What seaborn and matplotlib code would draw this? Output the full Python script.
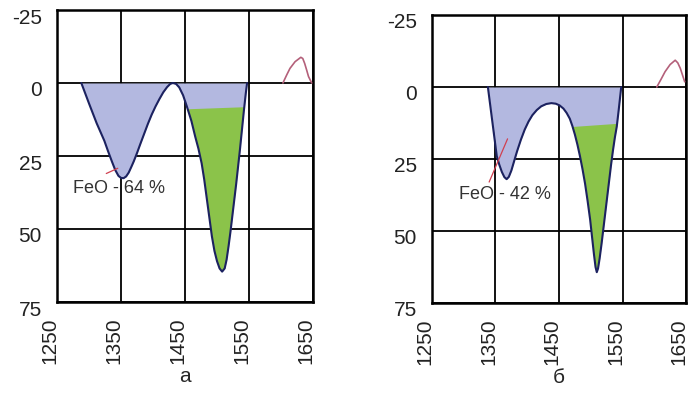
import numpy as np
import pandas as pd
import matplotlib
matplotlib.use("Agg")
import matplotlib.pyplot as plt
import seaborn as sns
from matplotlib.transforms import ScaledTranslation

# ---------------- data ----------------
x_ticks = [1250, 1350, 1450, 1550, 1650]
y_ticks = [-25, 0, 25, 50, 75]

# panel а : main curve
a_x = [1288, 1294, 1300, 1306, 1312, 1318, 1324, 1330, 1336, 1341, 1346, 1350,
       1354, 1358, 1362, 1366, 1370, 1375, 1380, 1386, 1392, 1398, 1404, 1410,
       1416, 1422, 1427, 1431, 1436, 1441, 1447, 1453, 1460, 1466, 1471, 1476,
       1480, 1484, 1488, 1492, 1496, 1500, 1504, 1508, 1512, 1515, 1518, 1521,
       1524, 1527, 1530, 1533, 1536, 1539, 1542, 1545, 1547]
a_y = [0, 3.5, 7, 10.4, 13.8, 16.8, 19.8, 23.5, 27, 29.8, 31.8, 32.5,
       32.6, 32, 30.7, 28.8, 26.8, 24, 21, 17.5, 14, 10.8, 8, 5.5,
       3.2, 1.4, 0.3, 0, 0.3, 1.5, 4.2, 8.1, 13, 18.4, 22.5, 27.5,
       33, 39.5, 46, 52.5, 57.5, 61, 63.5, 64.6, 63.5, 60.5, 56, 51,
       45.5, 40, 34.5, 28.5, 22.5, 16, 9.5, 3.5, 0]
a_green_top_x = [1454, 1542.5]
a_green_top_y = [9.0, 8.3]
a_red_x = [1603, 1609, 1614, 1622, 1631, 1634, 1637, 1640, 1643, 1648]
a_red_y = [0, -2.8, -5, -7.3, -8.8, -8.4, -6.7, -4.5, -2.2, 0]
a_ptr_x = [1327, 1345]
a_ptr_y = [31, 29.2]
a_label = "FeO - 64 %"
a_label_pos = (1275, 36)

# panel б : main curve
b_x = [1338, 1345, 1352, 1356, 1360, 1364, 1367.5, 1371, 1375, 1379, 1384, 1390,
       1396, 1402, 1408, 1415, 1422, 1430, 1438, 1445, 1451, 1457, 1462, 1467,
       1471, 1475, 1479, 1483, 1487, 1491, 1495, 1499, 1502, 1505, 1507.5, 1509.5,
       1511.5, 1514, 1517, 1520, 1523, 1526, 1529, 1532, 1535, 1538, 1541, 1544,
       1546, 1548]
b_y = [0, 12, 24, 27, 29.5, 31.3, 32, 31.2, 29, 26, 22.3, 18.3,
       14.8, 12, 9.8, 8, 6.7, 5.9, 5.6, 5.8, 6.4, 7.5, 9, 11,
       13.5, 16.5, 20, 24, 28.5, 33.5, 39.5, 46, 52, 58, 62.5, 64.3,
       63, 59.5, 54.5, 49, 43.5, 38, 32.5, 27, 22, 17.5, 13.7, 8,
       4, 0]
b_green_top_x = [1470.4, 1541.5]
b_green_top_y = [13.9, 12.8]
b_red_x = [1604, 1611, 1617, 1625, 1633, 1637, 1641, 1645, 1648]
b_red_y = [0, -2.8, -5.3, -7.8, -9.3, -8.4, -6.5, -3.8, -1.8]
b_ptr_x = [1340, 1369]
b_ptr_y = [33, 18]
b_label = "FeO - 42 %"
b_label_pos = (1292, 37.3)

panel_titles = ["а", "б"]

# ---------------- style ----------------
sns.set_theme(style="white")
plt.rcParams["font.family"] = ["Liberation Sans", "DejaVu Sans"]
plt.rcParams["axes.unicode_minus"] = False

BLUE = "#b3b8e0"
GREEN = "#8bc34a"
NAVY = "#1c2260"
RED = "#b4607a"

fig = plt.figure(figsize=(6.91, 3.98), dpi=100)
ax_a = fig.add_axes([57 / 691, 96 / 398, 256 / 691, 292 / 398])
ax_b = fig.add_axes([432 / 691, 95 / 398, 254 / 691, 288 / 398])

panels = [
    (ax_a, a_x, a_y, a_green_top_x, a_green_top_y, a_red_x, a_red_y,
     a_ptr_x, a_ptr_y, a_label, a_label_pos, panel_titles[0]),
    (ax_b, b_x, b_y, b_green_top_x, b_green_top_y, b_red_x, b_red_y,
     b_ptr_x, b_ptr_y, b_label, b_label_pos, panel_titles[1]),
]

for (ax, cx, cy, gx, gy, rx, ry, px, py, lab, lpos, title) in panels:
    df = pd.DataFrame({"x": cx, "y": cy})
    # blue fill between 0-line and curve
    ax.fill_between(cx, 0, cy, color=BLUE, lw=0, zorder=1)
    # green polygon: top edge + curve points in between
    poly = [(gx[0], gy[0])]
    poly += [(x, y) for x, y in zip(cx, cy) if gx[0] < x < gx[1]]
    poly += [(gx[1], gy[1])]
    ax.fill([p[0] for p in poly], [p[1] for p in poly], color=GREEN, lw=0, zorder=2)
    # curve
    sns.lineplot(data=df, x="x", y="y", sort=False, estimator=None,
                 color=NAVY, lw=1.5, ax=ax, zorder=3)
    # red small curve
    sns.lineplot(x=rx, y=ry, sort=False, estimator=None, color=RED, lw=1.2,
                 ax=ax, zorder=3)
    # pointer line
    ax.plot(px, py, color="#d04050", lw=0.9, zorder=4)
    ax.text(lpos[0], lpos[1], lab, ha="left", va="center", fontsize=13,
            color="#333333", zorder=5)

    ax.set_xlim(1250, 1650)
    ax.set_ylim(75, -25)
    ax.set_xticks(x_ticks)
    ax.set_yticks(y_ticks)
    ax.set_xticklabels([str(t) for t in x_ticks], rotation=90)
    ax.grid(True, color="black", lw=1.3)
    ax.set_axisbelow(True)
    for s in ax.spines.values():
        s.set_color("black")
        s.set_linewidth(1.8)
    ax.tick_params(axis="both", length=0, labelsize=15, colors="#222222")
    ax.tick_params(axis="x", pad=11)
    ax.tick_params(axis="y", pad=11)
    for t in ax.get_xticklabels():
        t.set_transform(t.get_transform() + ScaledTranslation(-0.07, 0, fig.dpi_scale_trans))
    for t in ax.get_yticklabels():
        t.set_transform(t.get_transform() + ScaledTranslation(0, -0.06, fig.dpi_scale_trans))
    ax.set_xlabel(title, fontsize=15, labelpad=2)
    ax.set_ylabel("")

fig.savefig("out.png", dpi=100)
